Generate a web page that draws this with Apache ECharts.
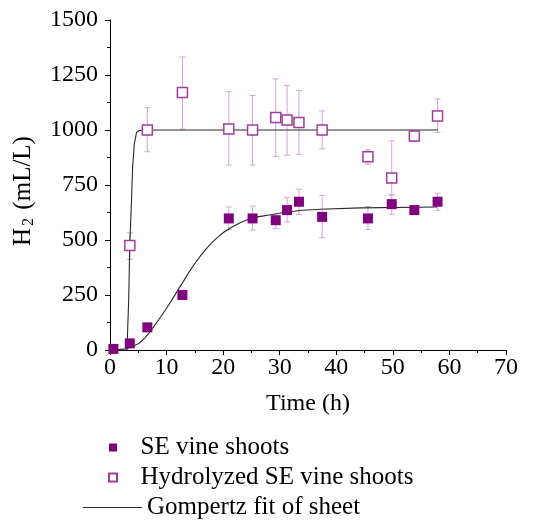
<!DOCTYPE html>
<html>
<head>
<meta charset="utf-8">
<script src="https://cdn.jsdelivr.net/npm/echarts@6/dist/echarts.min.js"></script>
<style>html,body{margin:0;padding:0;background:#fff}#c{width:536px;height:524px}</style>
</head>
<body>
<div id="c"></div>
<script>
// ---- data ----
var seTimes = [0.6, 3.5, 6.6, 12.8, 21.0, 25.2, 29.3, 31.3, 33.4, 37.5, 45.6, 49.8, 53.8, 57.9];
var seValues = [5, 30, 103, 250, 598, 598, 590, 636, 674, 605, 598, 663, 636, 674];
var seLow  = [null, null, null, null, 547, 545, 552, 582, 616, 510, 548, 617, null, 635];
var seHigh = [null, null, null, null, 650, 654, 612, 694, 731, 703, 652, 704, null, 712];

var hyTimes = [3.5, 6.6, 12.8, 21.0, 25.2, 29.3, 31.3, 33.4, 37.5, 45.6, 49.8, 53.8, 57.9];
var hyValues = [475, 1000, 1170, 1005, 1000, 1057, 1045, 1034, 1000, 878, 782, 973, 1064];
var hyLow  = [412, 901, 1004, 841, 841, 879, 886, 889, 914, 845, 705, 947, 989];
var hyHigh = [533, 1101, 1332, 1174, 1157, 1232, 1203, 1179, 1087, 910, 950, 997, 1141];

// Gompertz fit curves
var fitSeTimes  = [0.6, 2.8, 3.7, 5.0, 6.0, 7.0, 8.0, 9.0, 10.0, 11.0, 12.0, 13.0, 14.0, 15.0, 16.0, 17.0, 18.0, 19.0, 20.1, 21.5, 23.1, 24.5, 26.1, 28.4, 31.3, 34.0, 37.2, 44.3, 57.8];
var fitSeValues = [0, 6, 14, 28, 50, 80, 115, 152, 190, 230, 272, 313, 355, 393, 428, 460, 488, 512, 535, 558, 580, 594, 605, 615, 627, 635, 640, 646, 650];
var fitHyTimes  = [0.6, 3.0, 3.1, 3.3, 3.5, 3.8, 4.0, 4.3, 4.7, 5.2, 6.0, 57.9];
var fitHyValues = [0, 0, 5, 227, 483, 680, 830, 937, 990, 998, 1000, 1000];

var xTicks = [0, 10, 20, 30, 40, 50, 60, 70];
var yTicks = [0, 250, 500, 750, 1000, 1250, 1500];

var seriesNames = ['SE vine shoots', 'Hydrolyzed SE vine shoots', 'Gompertz fit of sheet'];
var xTitle = 'Time (h)';

// ---- build ----
function zip(a, b) { return a.map(function (v, i) { return [v, b[i]]; }); }
function errData(t, lo, hi) {
  var out = [];
  t.forEach(function (v, i) { if (lo[i] != null) out.push([v, lo[i], hi[i]]); });
  return out;
}
var FONT = '"Liberation Serif", "Times New Roman", serif';
var errColor = '#d9a0d9';

function errRender(params, api) {
  var p1 = api.coord([api.value(0), api.value(1)]);
  var p2 = api.coord([api.value(0), api.value(2)]);
  var hw = 3;
  var st = { stroke: errColor, lineWidth: 1 };
  return {
    type: 'group',
    children: [
      { type: 'line', shape: { x1: p1[0], y1: p1[1], x2: p2[0], y2: p2[1] }, style: st },
      { type: 'line', shape: { x1: p1[0] - hw, y1: p1[1], x2: p1[0] + hw, y2: p1[1] }, style: st },
      { type: 'line', shape: { x1: p2[0] - hw, y1: p2[1], x2: p2[0] + hw, y2: p2[1] }, style: st }
    ]
  };
}

var chart = echarts.init(document.getElementById('c'), null, { renderer: 'canvas' });
var axisCommon = {
  axisLine: { show: true, lineStyle: { color: '#000', width: 1 } },
  axisTick: { show: true, inside: false, length: 5, lineStyle: { color: '#000' } },
  minorTick: { show: true, splitNumber: 2, length: 3, lineStyle: { color: '#000' } },
  splitLine: { show: false },
  axisLabel: { color: '#000', fontFamily: FONT, fontSize: 24, formatter: function (v) { return String(v); } }
};
var squareIcon = 'path://M0,0L10,0L10,10L0,10Z';
chart.setOption({
  animation: false,
  backgroundColor: '#fff',
  textStyle: { fontFamily: FONT },
  grid: { left: 110, right: 30, top: 20, bottom: 174 },
  xAxis: Object.assign({}, axisCommon, {
    type: 'value', min: xTicks[0], max: xTicks[xTicks.length - 1], interval: 10,
    name: xTitle, nameLocation: 'middle', nameGap: 42,
    nameTextStyle: { color: '#000', fontFamily: FONT, fontSize: 24 },
    axisLabel: Object.assign({}, axisCommon.axisLabel, { margin: 6 })
  }),
  yAxis: Object.assign({}, axisCommon, {
    type: 'value', min: yTicks[0], max: yTicks[yTicks.length - 1], interval: 250,
    name: '{a|H}{b|2}{a| (mL/L)}', nameLocation: 'middle', nameGap: 73, nameRotate: 90,
    nameTextStyle: {
      color: '#000', fontFamily: FONT, fontSize: 24, padding: [0, 12, 0, 0],
      rich: {
        a: { fontFamily: FONT, fontSize: 25, color: '#000' },
        b: { fontFamily: FONT, fontSize: 16, color: '#000', padding: [12, 2, 0, 2] }
      }
    },
    axisLabel: Object.assign({}, axisCommon.axisLabel, { margin: 12 })
  }),
  legend: [
    {
      orient: 'vertical', left: 103, top: 430, itemWidth: 45, itemHeight: 8, itemGap: 5,
      symbolKeepAspect: true,
      data: [{ name: seriesNames[0], icon: squareIcon }, { name: seriesNames[1], icon: squareIcon }],
      textStyle: { fontFamily: FONT, fontSize: 25, color: '#000' },
      selectedMode: false
    },
    {
      orient: 'vertical', left: 78, top: 490, itemWidth: 59, itemHeight: 1,
      data: [{ name: seriesNames[2], icon: 'rect' }],
      textStyle: { fontFamily: FONT, fontSize: 25, color: '#000' },
      selectedMode: false
    }
  ],
  series: [
    { type: 'custom', name: 'errSE', renderItem: errRender, data: errData(seTimes, seLow, seHigh), z: 1, silent: true, clip: false },
    { type: 'custom', name: 'errHy', renderItem: errRender, data: errData(hyTimes, hyLow, hyHigh), z: 1, silent: true, clip: false },
    {
      type: 'line', name: seriesNames[2], data: zip(fitSeTimes, fitSeValues), showSymbol: false, symbol: 'none',
      lineStyle: { color: '#2a2a2a', width: 1.1 }, itemStyle: { color: '#2a2a2a' }, z: 2
    },
    {
      type: 'line', name: seriesNames[2], data: zip(fitHyTimes, fitHyValues), showSymbol: false, symbol: 'none',
      lineStyle: { color: '#2a2a2a', width: 1.1 }, itemStyle: { color: '#2a2a2a' }, z: 2
    },
    {
      type: 'scatter', name: seriesNames[0], data: zip(seTimes, seValues), symbol: 'rect', symbolSize: 10,
      itemStyle: { color: '#800080', opacity: 1 }, z: 3, clip: false
    },
    {
      type: 'scatter', name: seriesNames[1], data: zip(hyTimes, hyValues), symbol: 'rect', symbolSize: 10,
      itemStyle: { color: '#ffffff', borderColor: '#a03ca0', borderWidth: 1.5, opacity: 1 }, z: 3, clip: false
    }
  ]
});
</script>
</body>
</html>
